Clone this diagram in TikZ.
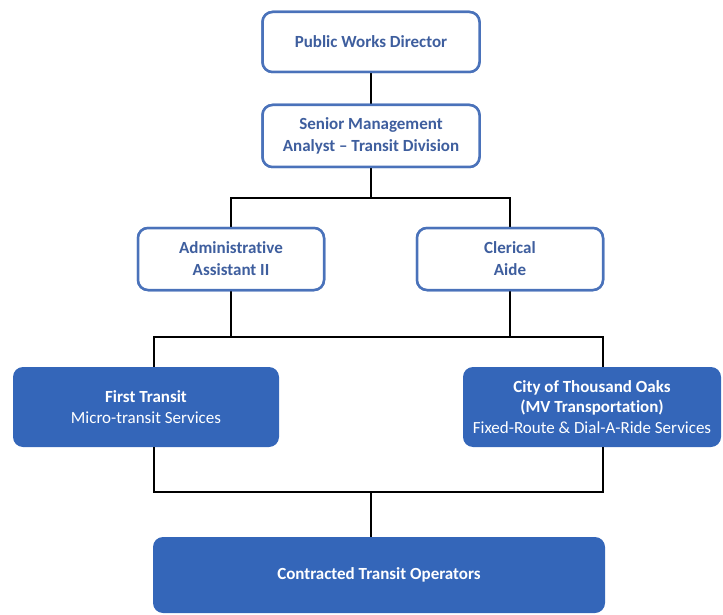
\documentclass[tikz,border=0pt]{standalone}
\usepackage{fontspec}
\setmainfont{Carlito}[Ligatures=NoCommon]
\usetikzlibrary{positioning}

\definecolor{lineblue}{HTML}{4A72BA}
\definecolor{textblue}{HTML}{3E5E9E}
\definecolor{fillblue}{HTML}{3466B9}

\begin{document}
\begin{tikzpicture}[x=1pt, y=-1pt, font=\fontsize{17}{20.5}\selectfont, align=center,
        staff/.style={draw=lineblue, line width=2.5pt, fill=white, rounded corners=10pt, text=textblue, font=\fontsize{17}{22}\selectfont\bfseries},
        operator/.style={fill=fillblue, rounded corners=10pt, text=white, inner sep=2pt},
        link/.style={draw=black, line width=2.8pt}]

        \useasboundingbox (0,0) rectangle (723,615);

        % staff boxes
        \node[staff, minimum width=217pt, minimum height=60pt] (pwd) at (371,42) {Public Works Director};
        \node[staff, minimum width=217pt, minimum height=62pt] (sma) at (371,136) {Senior Management\\Analyst -- Transit Division};
        \node[staff, minimum width=186pt, minimum height=62pt] (adm) at (231,259) {Administrative\\Assistant II};
        \node[staff, minimum width=186pt, minimum height=62pt] (cle) at (510,259) {Clerical\\Aide};

        % operators
        \node[operator, minimum width=266pt, minimum height=80pt] (ft) at (146,407) {\textbf{First Transit}\\Micro-transit Services};
        \node[operator, minimum width=258pt, minimum height=80pt] (mv) at (592,407) {\textbf{City of Thousand Oaks}\\\textbf{(MV Transportation)}\\Fixed-Route \& Dial-A-Ride Services};
        \node[operator, minimum width=452pt, minimum height=76pt, font=\fontsize{17}{20.5}\selectfont\bfseries] (cto) at (379,575) {Contracted Transit Operators};

        % junctions
        \coordinate (j1) at (371,198);
        \coordinate (j2l) at (154,337);
        \coordinate (j2r) at (603,337);
        \coordinate (j3l) at (154,492);
        \coordinate (j3r) at (603,492);
        \coordinate (j3) at (371,492);

        % connectors
        \draw[link] (pwd) -- (sma);
        \draw[link] (sma) -- (j1);
        \draw[link] (adm) |- (j1) -| (cle);
        \draw[link] (adm.south) -- (adm.south |- j2l);
        \draw[link] (cle.south) -- (cle.south |- j2r);
        \draw[link] (j2l |- ft.north) -- (j2l) -- (j2r) -- (j2r |- mv.north);
        \draw[link] (j3l |- ft.south) -- (j3l) -- (j3r) -- (j3r |- mv.south);
        \draw[link] (j3) -- (j3 |- cto.north);

        % redraw boxes over connector ends
        \node[staff, minimum width=217pt, minimum height=60pt] at (pwd) {Public Works Director};
        \node[staff, minimum width=217pt, minimum height=62pt] at (sma) {Senior Management\\Analyst -- Transit Division};
        \node[staff, minimum width=186pt, minimum height=62pt] at (adm) {Administrative\\Assistant II};
        \node[staff, minimum width=186pt, minimum height=62pt] at (cle) {Clerical\\Aide};
\end{tikzpicture}
\end{document}
